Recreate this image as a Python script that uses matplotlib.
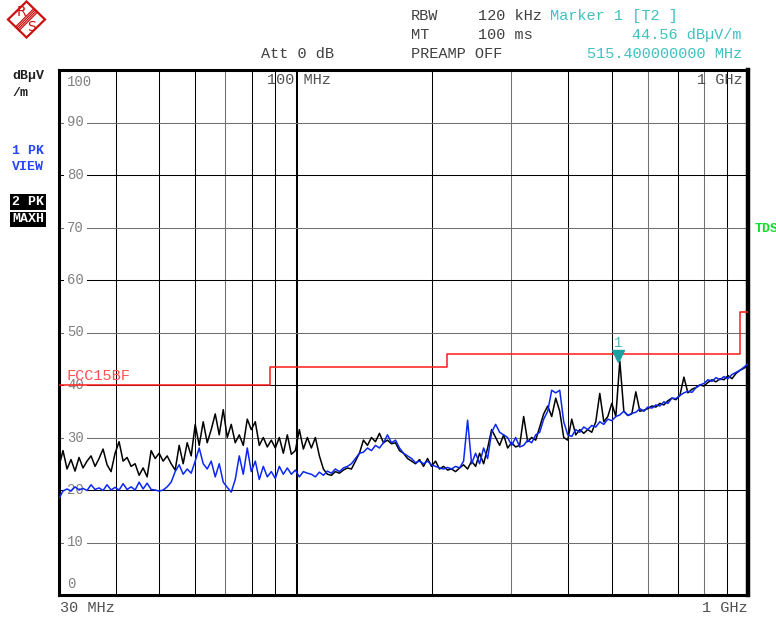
import numpy as np
import matplotlib.pyplot as plt
from matplotlib.patches import Polygon
from matplotlib.transforms import offset_copy

W, H = 776, 619
plt.rcParams['font.family'] = ['Liberation Mono', 'DejaVu Sans Mono']

# trace 2 (PK MAXH, black), dBuV/m, one value per sweep point 30 MHz .. 1 GHz
level_maxh = [
    24.5, 27.5, 24.0, 25.8, 23.6, 26.2, 24.2, 25.5, 26.5, 24.5,
    26.0, 27.8, 24.8, 23.5, 27.0, 29.2, 25.5, 26.2, 24.5, 25.0,
    22.8, 24.2, 22.5, 27.5, 26.0, 27.0, 25.5, 26.5, 25.0, 23.8,
    28.5, 25.0, 29.0, 26.5, 32.5, 28.5, 33.0, 29.0, 31.5, 34.5,
    30.5, 35.3, 30.0, 32.5, 29.0, 30.5, 28.5, 33.5, 31.5, 33.0,
    28.5, 30.0, 28.2, 29.5, 28.0, 30.0, 27.0, 30.5, 26.8, 27.5,
    31.5, 27.8, 30.0, 28.0, 30.0, 26.5, 24.0, 23.0, 22.8, 23.5,
    23.2, 23.8, 24.2, 24.0, 25.5, 27.0, 29.5, 28.5, 30.0, 29.2,
    30.8, 29.0, 29.5, 28.8, 29.0, 27.5, 27.0, 26.0, 25.5, 25.0,
    25.8, 24.5, 26.0, 24.5, 25.5, 24.0, 24.5, 23.8, 24.0, 23.5,
    24.2, 24.8, 24.0, 25.5, 24.5, 27.0, 25.0, 28.0, 31.5, 30.0,
    28.5, 30.5, 28.0, 29.0, 28.2, 28.5, 34.0, 29.2, 30.0, 29.5,
    32.0, 34.5, 36.0, 34.0, 37.5, 35.0, 30.0, 29.5, 33.5, 30.5,
    31.5, 30.8, 31.5, 31.0, 33.0, 38.4, 33.0, 34.0, 36.5, 34.0,
    44.56, 35.0, 34.2, 34.5, 38.7, 35.0, 35.2, 35.5, 36.0, 35.8,
    36.5, 36.2, 37.0, 37.5, 37.2, 38.0, 41.5, 38.5, 39.2, 39.5,
    40.0, 39.8, 40.5, 41.0, 40.6, 41.2, 41.0, 41.8, 41.2, 42.2,
    42.8, 43.2, 43.8,
]

# trace 1 (PK VIEW, blue)
level_view = [
    18.4, 19.8, 20.2, 19.8, 20.6, 20.0, 20.3, 19.9, 21.0, 20.1,
    20.4, 19.9, 21.0, 20.0, 20.5, 20.0, 21.2, 20.1, 20.6, 20.0,
    21.5, 20.2, 21.3, 20.1, 20.0, 19.8, 20.0, 20.6, 21.5, 23.5,
    24.8, 23.0, 24.0, 23.2, 25.5, 28.0, 25.0, 24.0, 25.5, 22.5,
    25.0, 21.5, 20.5, 19.6, 22.0, 26.5, 23.0, 28.0, 23.5, 25.5,
    22.0, 24.5, 22.5, 23.5, 22.2, 24.5, 23.0, 24.2, 23.0, 23.8,
    22.5, 23.5, 23.2, 23.0, 22.5, 23.4, 22.8, 23.6, 23.2, 24.0,
    23.5, 24.2, 24.5, 25.0, 26.0, 27.0, 27.2, 28.0, 27.5, 28.5,
    28.0, 29.0, 30.5, 29.0, 29.5, 28.0, 27.0, 26.5, 26.0, 25.2,
    25.5, 25.0, 25.5, 24.8, 24.5, 24.2, 24.0, 24.3, 24.0, 24.5,
    24.2, 25.5, 33.3, 25.0, 27.0, 25.0, 28.0, 26.0, 31.0, 32.5,
    31.0, 30.5, 30.0, 28.5, 30.0, 28.2, 28.5, 29.5, 29.0, 30.5,
    31.0, 33.5, 35.0, 39.0, 38.5, 39.0, 33.0, 30.5, 30.2, 31.5,
    31.0, 32.0, 31.5, 32.3, 32.0, 33.0, 32.5, 33.5, 33.2, 34.0,
    34.3, 35.0, 34.2, 34.6, 34.8, 35.5, 35.0, 35.8, 35.6, 36.2,
    36.0, 36.8, 36.5, 37.5, 37.4, 38.0, 38.5, 38.8, 38.6, 39.5,
    40.0, 40.3, 41.0, 40.7, 41.4, 41.0, 41.6, 41.2, 42.0, 42.4,
    42.8, 43.4, 44.0,
]

# FCC 15 class B limit line
limit_freq = [30, 88, 216, 960, 1000]
limit_level = [40, 43.5, 46, 54, 54]

grid_freq = [40, 50, 60, 70, 80, 90, 100, 200, 300, 400, 500, 600, 700, 800, 900]
grid_gray = [70, 300, 600, 800]
grid_level = [10, 20, 30, 40, 50, 60, 70, 80, 90]

marker_freq = 515.4
marker_level = 44.56

# sweep points, log spaced like the analyzer display
freq = np.geomspace(30, 1000, len(level_maxh))


def px(x, y):
    return x / W, 1 - y / H


fig = plt.figure(figsize=(W / 100, H / 100), dpi=100)
ax = fig.add_axes([59 / W, 1 - 595 / H, (748 - 59) / W, (595 - 70) / H])
ax.set_xscale('log')
ax.set_xlim(30, 1000)
ax.set_ylim(0, 100)
ax.tick_params(which='both', left=False, bottom=False, labelleft=False, labelbottom=False)
for s in ax.spines.values():
    s.set_linewidth(2.2)
ax.spines['right'].set_linewidth(3.2)

# grid
for f in grid_freq:
    c = '#707070' if f in grid_gray else '#000000'
    ax.axvline(f, color=c, lw=0.75, zorder=1)
ax.axvline(100.8, color='#000000', lw=0.75, zorder=1)
for lv in grid_level:
    c = '#000000' if lv % 20 == 0 else '#707070'
    ax.axhline(lv, color=c, lw=0.75, zorder=1)
    ax.text(8 / 689, lv / 100, str(lv), transform=ax.transAxes, color='#808080',
            fontsize=10, va='center', ha='left', zorder=2,
            bbox=dict(boxstyle='square,pad=0.2', fc='white', ec='none'))
ax.text(8 / 689, (595 - 82) / 525, '100', transform=ax.transAxes, color='#808080',
        fontsize=10, va='center', ha='left', zorder=2)
ax.text(8 / 689, (595 - 584) / 525, '0', transform=ax.transAxes, color='#808080',
        fontsize=10, va='center', ha='left', zorder=2)

# limit line
ax.step(limit_freq, limit_level, where='post', color='#ff1a1a', lw=1.1, zorder=3)
ax.text(8 / 689, (595 - 376) / 525, 'FCC15BF', transform=ax.transAxes,
        color='#ff5050', fontsize=11, va='center', ha='left', zorder=3)

# traces
ax.plot(freq, level_maxh, color='#000000', lw=1.1, zorder=4)
ax.plot(freq, level_view, color='#0a28f0', lw=1.1, zorder=5)

# marker 1
ax.plot(marker_freq, marker_level, marker='v', color='#1aa0a0', ms=8, ls='none', zorder=6,
        transform=offset_copy(ax.transData, fig=fig, y=3.5, units='points'))
ax.text(marker_freq, marker_level, '1', color='#50b8b8', fontsize=10, ha='center', va='bottom',
        zorder=6, transform=offset_copy(ax.transData, fig=fig, y=8, units='points'))

# frequency labels inside the frame
ax.text((267 - 59) / 689, (595 - 80.5) / 525, '100 MHz', transform=ax.transAxes,
        color='#505050', fontsize=11, va='center', ha='left', zorder=2)
ax.text((743 - 59) / 689, (595 - 80.5) / 525, '1 GHz', transform=ax.transAxes,
        color='#505050', fontsize=11, va='center', ha='right', zorder=2)

# text below the frame
fig.text(*px(60, 608), '30 MHz', color='#505050', fontsize=11, va='center', ha='left')
fig.text(*px(748, 608), '1 GHz', color='#505050', fontsize=11, va='center', ha='right')

# header
hdr = '#404040'
cyan = '#40c0c0'
fig.text(*px(411, 16), 'RBW', color=hdr, fontsize=11, va='center')
fig.text(*px(478, 16), '120 kHz', color=hdr, fontsize=11, va='center')
fig.text(*px(550, 16), 'Marker 1 [T2 ]', color=cyan, fontsize=11, va='center')
fig.text(*px(411, 35), 'MT', color=hdr, fontsize=11, va='center')
fig.text(*px(478, 35), '100 ms', color=hdr, fontsize=11, va='center')
fig.text(*px(742, 35), '44.56 dB\u00b5V/m', color=cyan, fontsize=11, va='center', ha='right')
fig.text(*px(261, 53.5), 'Att 0 dB', color=hdr, fontsize=11, va='center')
fig.text(*px(411, 53.5), 'PREAMP OFF', color=hdr, fontsize=11, va='center')
fig.text(*px(742, 53.5), '515.400000000 MHz', color=cyan, fontsize=11, va='center', ha='right')

# left side labels
fig.text(*px(12, 76), 'dB\u00b5V', color='#202020', fontsize=9.5, weight='bold', va='center')
fig.text(*px(12, 92.5), '/m', color='#202020', fontsize=9.5, weight='bold', va='center')
fig.text(*px(12, 150.5), '1 PK', color='#2845ff', fontsize=9.5, weight='bold', va='center')
fig.text(*px(12, 167.5), 'VIEW', color='#2845ff', fontsize=9.5, weight='bold', va='center')
fig.text(*px(12, 202), '2 PK', color='white', fontsize=9.5, weight='bold', va='center',
         bbox=dict(boxstyle='square,pad=0.12', fc='black', ec='none'))
fig.text(*px(12, 219.5), 'MAXH', color='white', fontsize=9.5, weight='bold', va='center',
         bbox=dict(boxstyle='square,pad=0.12', fc='black', ec='none'))
fig.text(*px(755, 229.5), 'TDS', color='#10dd30', fontsize=9.5, weight='bold', va='center')

# R&S logo
lx = fig.add_axes([0, 1 - 40 / H, 55 / W, 40 / H])
lx.set_xlim(0, 55)
lx.set_ylim(40, 0)
lx.axis('off')
red = '#cc1010'
lx.add_patch(Polygon([(26.5, 1.5), (45, 19.5), (26.5, 37.5), (8, 19.5)], closed=True,
                     fill=False, ec=red, lw=1.6))
for d in (-1.8, -0.6, 0.6, 1.8):
    lx.plot([35.8 + d, 17.2 + d], [10.2 + d, 28.8 + d], color=red, lw=0.9)
lx.text(21, 11.5, 'R', color=red, fontsize=10, ha='center', va='center', family='DejaVu Sans')
lx.text(32, 27, 'S', color=red, fontsize=10, ha='center', va='center', family='DejaVu Sans')

fig.savefig('out.png', dpi=100)
